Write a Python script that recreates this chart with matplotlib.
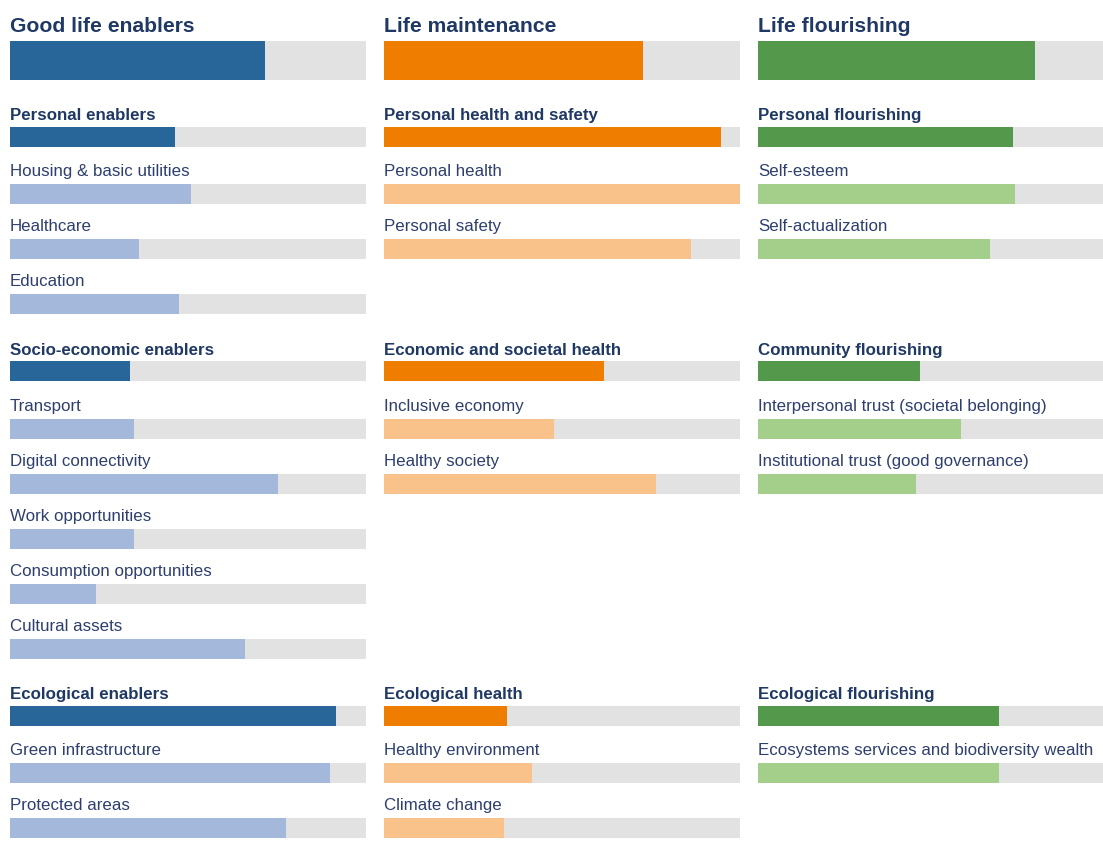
import matplotlib.pyplot as plt
from matplotlib.patches import Rectangle

# three pillars, each with a headline score and sub-groups
titles = ["Good life enablers", "Life maintenance", "Life flourishing"]
title_values = [0.716, 0.728, 0.779]

group_names = [
    ["Personal enablers", "Socio-economic enablers", "Ecological enablers"],
    ["Personal health and safety", "Economic and societal health", "Ecological health"],
    ["Personal flourishing", "Community flourishing", "Ecological flourishing"],
]
group_values = [
    [0.464, 0.337, 0.918],
    [0.948, 0.618, 0.345],
    [0.717, 0.455, 0.678],
]

item_names = [
    [["Housing & basic utilities", "Healthcare", "Education"],
     ["Transport", "Digital connectivity", "Work opportunities",
      "Consumption opportunities", "Cultural assets"],
     ["Green infrastructure", "Protected areas"]],
    [["Personal health", "Personal safety"],
     ["Inclusive economy", "Healthy society"],
     ["Healthy environment", "Climate change"]],
    [["Self-esteem", "Self-actualization"],
     ["Interpersonal trust (societal belonging)", "Institutional trust (good governance)"],
     ["Ecosystems services and biodiversity wealth"]],
]
item_values = [
    [[0.509, 0.363, 0.474],
     [0.350, 0.755, 0.350, 0.242, 0.662],
     [0.899, 0.777]],
    [[1.0, 0.863],
     [0.477, 0.763],
     [0.415, 0.336]],
    [[0.722, 0.651],
     [0.571, 0.444],
     [0.678]],
]

dark = ["#286699", "#ef7d00", "#54984c"]
light = ["#a4b8dc", "#f9c28b", "#a3cf8a"]
grey = "#e2e2e2"
navy = "#1f3864"
txt = "#2e3f6e"

plt.rcParams['font.family'] = ['Liberation Sans', 'DejaVu Sans']

W, H = 1103, 855
fig = plt.figure(figsize=(W / 100, H / 100), dpi=100)
ax = fig.add_axes([0, 0, 1, 1])
ax.set_xlim(0, W)
ax.set_ylim(H, 0)
ax.axis('off')

col_x = [10, 384.3, 758.3]
col_w = 355.5
first = 137      # centre of first group bar
head_gap = 57    # group bar -> first item bar
pitch = 55       # item -> item
tail_gap = 67.5  # last item -> next group bar


def bar(x0, yc, h, v, color):
    ax.add_patch(Rectangle((x0, yc - h / 2), col_w, h, color=grey, lw=0))
    ax.add_patch(Rectangle((x0, yc - h / 2), v * col_w, h, color=color, lw=0))


# group start rows shared by all columns
max_items = [max(len(item_names[c][g]) for c in range(3)) for g in range(3)]
starts = [first]
for g in range(2):
    starts.append(starts[-1] + head_gap + (max_items[g] - 1) * pitch + tail_gap)

for c in range(3):
    x0 = col_x[c]
    ax.text(x0, 26, titles[c], fontsize=15.2, fontweight='bold', color=navy, va='center')
    bar(x0, 60.5, 39, title_values[c], dark[c])
    for g in range(3):
        y = starts[g]
        ax.text(x0, y - 21.5, group_names[c][g], fontsize=12.2, fontweight='bold',
                color=navy, va='center')
        bar(x0, y, 20, group_values[c][g], dark[c])
        for i, (name, v) in enumerate(zip(item_names[c][g], item_values[c][g])):
            yi = y + head_gap + i * pitch
            ax.text(x0, yi - 22.5, name, fontsize=12.2, color=txt, va='center')
            bar(x0, yi, 20, v, light[c])

fig.savefig("out.png", dpi=100)
